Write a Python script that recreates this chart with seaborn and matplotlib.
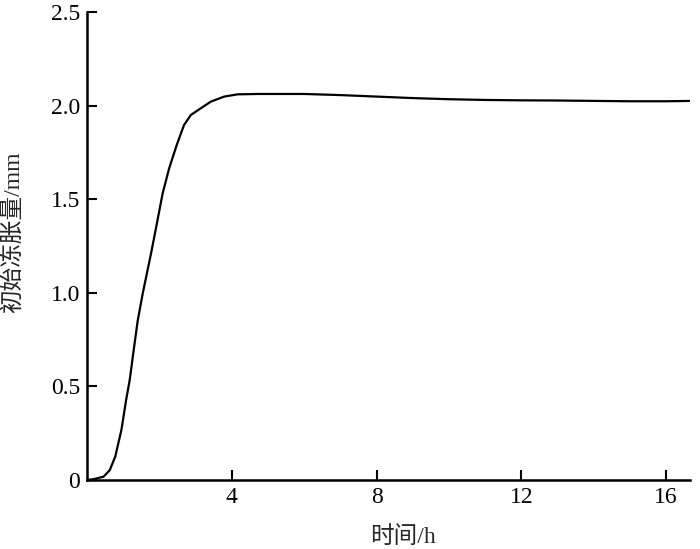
import numpy as np
import pandas as pd
import matplotlib
matplotlib.use('Agg')
import matplotlib.pyplot as plt
import seaborn as sns

# time (h) and initial frost heave (mm)
hours = [0, 0.14, 0.28, 0.46, 0.63, 0.78, 0.95, 1.08, 1.18, 1.28, 1.4, 1.54,
         1.77, 1.92, 2.09, 2.27, 2.48, 2.68, 2.87, 3.14, 3.42, 3.79, 4.16,
         4.71, 6, 7, 8, 9, 10, 11, 12, 13, 14, 15, 16, 16.7]
heave = [0, 0.003, 0.009, 0.018, 0.053, 0.125, 0.267, 0.427, 0.534, 0.68,
         0.85, 0.997, 1.211, 1.36, 1.531, 1.665, 1.79, 1.896, 1.95, 1.985,
         2.021, 2.048, 2.06, 2.062, 2.062, 2.056, 2.048, 2.04, 2.034, 2.03,
         2.028, 2.027, 2.025, 2.023, 2.023, 2.025]
x_ticks = [4, 8, 12, 16]
y_ticks = [0, 0.5, 1.0, 1.5, 2.0, 2.5]
y_labels = ['0', '0.5', '1.0', '1.5', '2.0', '2.5']

sns.set_theme(style='ticks')
plt.rcParams['font.family'] = ['Liberation Serif', 'Noto Sans CJK SC']

df = pd.DataFrame({'t': hours, 'h': heave})

fig = plt.figure(figsize=(7, 5.49), dpi=100)
ax = fig.add_axes([0.1243, 0.1257, 0.8614, 0.8525])
sns.lineplot(data=df, x='t', y='h', ax=ax, color='black', lw=1.6)

ax.set_xlim(0, 16.66)
ax.set_ylim(0, 2.5)
ax.set_xticks(x_ticks)
ax.set_yticks(y_ticks)
ax.set_yticklabels(y_labels)
ax.tick_params(direction='in', length=7, width=1.5, labelsize=17, colors='black')
ax.tick_params(axis='x', pad=5)
ax.tick_params(axis='y', pad=5)
sns.despine(ax=ax)
for s in ['left', 'bottom']:
    ax.spines[s].set_linewidth(1.8)
    ax.spines[s].set_color('black')
ax.set_xlabel('时间/h', fontsize=17)
ax.set_ylabel('初始冻胀量/mm', fontsize=17)
ax.xaxis.set_label_coords(0.524, -0.098)
ax.yaxis.set_label_coords(-0.103, 0.53)

fig.savefig('out.png', dpi=100)
